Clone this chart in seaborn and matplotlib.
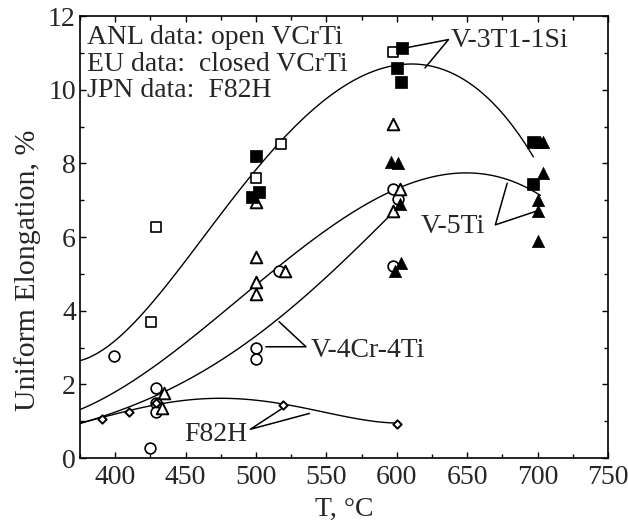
import matplotlib
matplotlib.use("Agg")
import matplotlib.pyplot as plt
from matplotlib.ticker import MultipleLocator
import seaborn as sns
import warnings
warnings.filterwarnings("ignore")

# ---------------- data ----------------
# V-3Ti-1Si squares
sq_open_T = [429.3, 425.5, 500, 518, 597]
sq_open_E = [6.28, 3.70, 7.61, 8.53, 11.03]
sq_fill_T = [500, 502, 497.5, 603.6, 600, 603, 697, 697]
sq_fill_E = [8.21, 7.22, 7.08, 11.14, 10.6, 10.22, 8.59, 7.45]
# V-5Ti triangles
tri_open_T = [435, 433, 520.7, 500, 500, 500, 500, 597, 602, 597]
tri_open_E = [1.77, 1.36, 5.08, 5.46, 4.78, 4.46, 6.96, 9.08, 7.31, 6.71]
tri_fill_T = [596, 601, 602, 603, 599, 701.5, 704, 703.6, 700, 700, 700]
tri_fill_E = [8.04, 8.02, 6.90, 5.30, 5.08, 8.59, 8.59, 7.74, 7.01, 6.71, 5.90]
# V-4Cr-4Ti circles
circ_T = [399, 429, 429, 429.3, 425, 500, 500, 516.4, 597, 600.7, 597.6]
circ_E = [2.77, 1.90, 1.49, 1.25, 0.27, 2.99, 2.69, 5.08, 7.31, 7.04, 5.22]
# F82H diamonds
dia_T = [390.6, 410, 429, 519, 600]
dia_E = [1.07, 1.26, 1.50, 1.43, 0.93]

# fitted curves
top_T = [375, 397, 421, 445, 470, 485, 497, 516, 540, 564, 581, 600, 619, 638, 659, 681, 697]
top_E = [2.61, 3.15, 4.02, 5.05, 6.32, 7.08, 7.74, 8.56, 9.46, 10.19, 10.45, 10.6, 10.63, 10.49, 10.0, 9.1, 8.15]
mid_T = [375, 400, 415, 424, 452, 475, 500, 520, 547, 571, 595, 604, 628, 652, 676, 702]
mid_E = [1.33, 1.78, 2.12, 2.39, 3.2, 3.95, 4.72, 5.3, 6.06, 6.65, 7.25, 7.47, 7.66, 7.72, 7.55, 7.15]
low_T = [375, 390, 410, 430, 452, 475, 500, 516, 547, 571, 597]
low_E = [0.98, 1.08, 1.30, 1.72, 2.25, 2.72, 3.2, 3.72, 4.84, 5.74, 6.62]
f82_T = [375, 390, 410, 430, 455, 480, 505, 520, 552, 575, 600]
f82_E = [0.97, 1.07, 1.27, 1.48, 1.60, 1.62, 1.53, 1.45, 1.22, 1.06, 0.94]

# ---------------- style ----------------
sns.set_theme(style="ticks")
plt.rcParams["font.family"] = ["Liberation Serif", "DejaVu Serif"]

fig = plt.figure(figsize=(6.28, 5.30), dpi=100)
ax = fig.add_axes([80 / 628, 1 - 458 / 530, 528 / 628, 442 / 530])

for T, E, order in [(top_T, top_E, 5), (mid_T, mid_E, 5),
                    (low_T, low_E, 4), (f82_T, f82_E, 4)]:
    sns.regplot(x=T, y=E, order=order, ci=None, scatter=False, ax=ax,
                color="black", line_kws=dict(lw=1.0, zorder=2))

mk = dict(ax=ax, edgecolor="black", zorder=3, legend=False)
sns.scatterplot(x=sq_open_T, y=sq_open_E, marker="s", s=60, facecolor="white",
                linewidth=1.2, **mk)
sns.scatterplot(x=circ_T, y=circ_E, marker="o", s=60, facecolor="white",
                linewidth=1.2, **mk)
sns.scatterplot(x=tri_open_T, y=tri_open_E, marker="^", s=70, facecolor="white",
                linewidth=1.4, **mk)
sns.scatterplot(x=dia_T, y=dia_E, marker="D", s=18, facecolor="white",
                linewidth=1.4, **mk)
sns.scatterplot(x=sq_fill_T, y=sq_fill_E, marker="s", s=68, color="black",
                linewidth=0.5, **mk)
sns.scatterplot(x=tri_fill_T, y=tri_fill_E, marker="^", s=78, color="black",
                linewidth=0.5, **mk)

ax.set_xlim(375, 750)
ax.set_ylim(0, 12)
ax.xaxis.set_major_locator(MultipleLocator(50))
ax.xaxis.set_minor_locator(MultipleLocator(25))
ax.yaxis.set_major_locator(MultipleLocator(2))
ax.yaxis.set_minor_locator(MultipleLocator(1))
ax.tick_params(which="both", direction="in", top=True, right=True,
               width=1.0, color="black")
ax.tick_params(which="major", length=4, labelsize=20)
ax.tick_params(axis="y", which="major", pad=3)
ax.tick_params(axis="x", which="major", pad=5)
ax.tick_params(which="minor", length=3)
for s in ax.spines.values():
    s.set_linewidth(1.2)
    s.set_color("black")

ax.set_xlabel("T, °C", fontsize=20)
ax.set_ylabel("Uniform Elongation, %", fontsize=21.5)
ax.xaxis.set_label_coords(0.5, -0.088)
ax.yaxis.set_label_coords(-0.074, 0.425)

fs = 20
ax.text(380, 11.24, "ANL data: open VCrTi", fontsize=fs, va="baseline")
ax.text(380, 10.52, "EU data:  closed VCrTi", fontsize=fs, va="baseline")
ax.text(380, 9.81, "JPN data:  F82H", fontsize=fs, va="baseline")

ax.text(638, 11.15, "V-3T1-1Si", fontsize=fs, va="baseline")
ax.text(617, 6.1, "V-5Ti", fontsize=fs, va="baseline")
ax.text(538.5, 2.75, "V-4Cr-4Ti", fontsize=fs, va="baseline")
ax.text(449, 0.47, "F82H", fontsize=fs, va="baseline")

ln = dict(color="black", lw=1.1, zorder=2)
ax.plot([605.7, 636.7, 620], [11.13, 11.36, 10.59], **ln)
ax.plot([678.4, 670, 699], [7.46, 6.33, 6.70], **ln)
ax.plot([507, 535.5, 516.4], [3.02, 3.02, 3.70], **ln)
ax.plot([518.8, 496, 537.9], [1.35, 0.78, 1.21], **ln)

fig.savefig("out.png", dpi=100)
